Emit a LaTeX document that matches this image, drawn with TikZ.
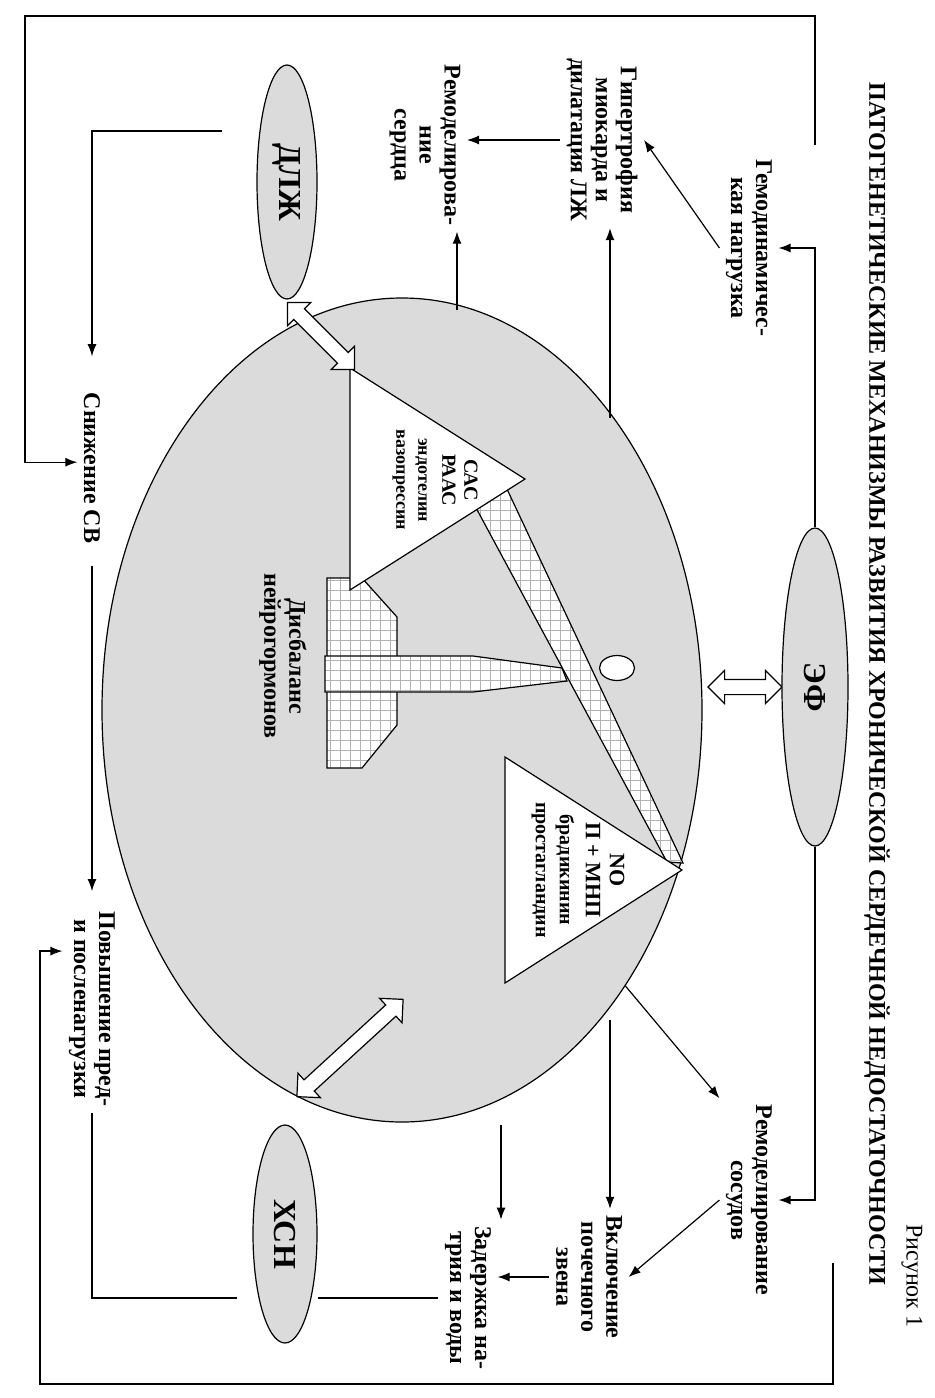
\documentclass[tikz,border=0pt]{standalone}
\usepackage{fontspec}
\setmainfont{Liberation Serif}
\usetikzlibrary{shapes.geometric,shapes.arrows,arrows.meta,calc}

\tikzset{
  lbl/.style={align=center, font=\bfseries\fontsize{12}{12.5}\selectfont, inner sep=3pt},
  blob/.style={ellipse, draw, fill=black!14, inner sep=0pt, font=\bfseries\fontsize{16}{16}\selectfont},
  twoway/.style={double arrow, draw, fill=white, inner xsep=0pt, inner ysep=3.5pt, double arrow head extend=4.5pt},
  hatch/.style={draw=gray!60, line width=0.3pt},
  arr/.style={-{Latex[length=6pt,width=4.5pt]}}
}
\newcommand\hatched[1]{%
\begin{scope}
\clip #1;
\fill[white] (0,0) rectangle (1398,934);
\draw[hatch, step=10] (0,0) grid (1398,934);
\end{scope}
\draw #1;}

\begin{document}
\begin{tikzpicture}[line width=0.6pt]
\begin{scope}[x=0.5pt, y=0.5pt, rotate=-90, transform shape]
\useasboundingbox (0,0) rectangle (1398,934);

\node[ellipse, draw, fill=black!14, minimum width=412pt, minimum height=300pt] (heart) at (710,402) {};

% balance
\hatched{(578,327) -- (578,362) -- (617,397) -- (725,397) -- (768,362) -- (768,327) -- cycle}
\hatched{(656,325) -- (656,473) -- (668,562) -- (681,567) -- (692,473) -- (692,325) -- cycle}
\hatched{(480,461) -- (862,667) -- (863,683) -- (470,498) -- cycle}
\filldraw[fill=white] (368,350) -- (590,350) -- (479,525) -- cycle;
\filldraw[fill=white] (757,505) -- (983,505) -- (870,682) -- cycle;
\node[ellipse, draw, fill=white, minimum width=12.5pt, minimum height=17.5pt, inner sep=0pt] (pivot) at (668,617) {};

\node[align=center, font=\bfseries\fontsize{10}{11}\selectfont] (sas) at (480,435)
  {САС\\РААС\\[1pt]{\fontsize{9}{11}\selectfont эндотелин}\\{\fontsize{9}{11}\selectfont вазопрессин}};
\node[align=center, font=\bfseries\fontsize{11}{12}\selectfont] (no) at (870,578)
  {NO\\П + МНП\\[1pt]{\fontsize{10}{13}\selectfont брадикинин}\\{\fontsize{10}{13}\selectfont простагландин}};
\node[lbl] (disb) at (656,283) {Дисбаланс\\нейрогормонов};

\node[twoway, minimum height=47.5pt, rotate=45] (dlzharr) at (336,321) {};
\node[twoway, minimum height=37pt, rotate=90] (efarr) at (687,745) {};
\node[twoway, minimum height=72pt, rotate=132.5] (hsnarr) at (1048,350) {};

\node[blob, minimum width=159pt, minimum height=33pt] (ef) at (687,815) {ЭФ};
\node[blob, minimum width=117pt, minimum height=30pt] (dlzh) at (182,287) {ДЛЖ};
\node[blob, minimum width=109pt, minimum height=32pt] (hsn) at (1234,285) {ХСН};

\node[lbl] (title) at (684,877) {ПАТОГЕНЕТИЧЕСКИЕ МЕХАНИЗМЫ РАЗВИТИЯ ХРОНИЧЕСКОЙ СЕРДЕЧНОЙ НЕДОСТАТОЧНОСТИ};
\node[lbl, font=\fontsize{12}{12.5}\selectfont] (fig) at (1276,912) {Рисунок 1};
\node[lbl] (gemo) at (248,749) {Гемодинамичес-\\кая нагрузка};
\node[lbl] (gipert) at (140,602) {Гипертрофия\\миокарда и\\дилатация ЛЖ};
\node[lbl] (remserd) at (145,425) {Ремоделирова-\\ние\\сердца};
\node[lbl] (snizh) at (468,92) {Снижение СВ};
\node[lbl] (povysh) at (1009,92) {Повышение пред-\\и посленагрузки};
\node[lbl] (remsos) at (1200,749) {Ремоделирование\\сосудов};
\node[lbl] (vkl) at (1277,589) {Включение\\почечного\\звена};
\node[lbl] (zader) at (1298,468) {Задержка на-\\трия и воды};

% connectors
\coordinate (fbA) at (145,815);
\coordinate (fbB) at (16,25);
\coordinate (fbC) at (1263,833);
\coordinate (fbD) at (1384,40);
\coordinate (snin) at ([xshift=38pt]snizh.south west);
\coordinate (pvin) at ([xshift=23pt]povysh.south west);
\coordinate (d1) at (131,222);
\coordinate (h1) at (418,610);
\coordinate (h2) at (310,457);
\coordinate (h3) at (1020,610);
\coordinate (h4) at (1125,501);
\path (hsn.south -| zader.south) ++(0,-15) coordinate (hlo);

\draw[arr] (ef.west) -| (gemo.north);
\draw[arr] (ef.east) -| (remsos.north);
\draw[arr] (fbA) -| (fbB) -| (snin);
\draw[arr] (fbC) -| (fbD) -| (pvin);
\draw[arr] (gemo.south) -- (gipert.north);
\draw[arr] (gipert.south) -- (gipert.south |- remserd.north);
\draw[arr] (h1) -- (h1 -| gipert.east);
\draw[arr] (h2) -- (h2 -| remserd.east);
\draw[arr, shorten >=15pt] (d1) |- (snizh.west);
\draw[arr, shorten <=8pt, shorten >=7pt] (snizh) -- (povysh);
\draw (povysh.east) -| (hlo);
\draw (zader.south) -- (zader.south |- hsn.north);
\draw[arr] (heart.39) -- (remsos.south west);
\draw[arr] (remsos.south) -- (vkl.north);
\draw[arr] (h3) -- (h3 -| vkl.west);
\draw[arr] (h4) -- (h4 -| zader.west);
\draw[arr] (vkl.south) -- (vkl.south |- zader.north);
\end{scope}
\end{tikzpicture}
\end{document}
